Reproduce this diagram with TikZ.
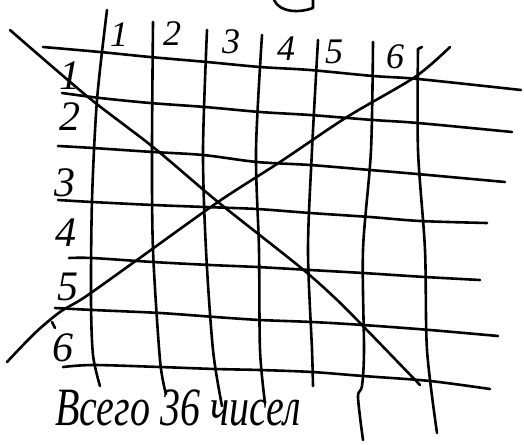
\documentclass[tikz,border=0pt]{standalone}
\usepackage{fontspec}
\setmainfont{Liberation Serif}
\begin{document}
\begin{tikzpicture}[x=1pt,y=-1pt,
  pen/.style={line width=2.6pt,line cap=round,line join=round},
  digit/.style={font=\fontsize{36}{36}\selectfont\itshape,inner sep=0pt},
  rowdigit/.style={digit,font=\fontsize{42}{42}\selectfont\itshape}]
  \useasboundingbox (0,0) rectangle (524,444);
  % cut-off mark at the top
  \draw[pen] (274,0) .. controls (280,13) and (300,13) .. (313,8) -- (313,0);
  % columns
  \draw[pen] plot[smooth] coordinates {(107,10)(97,100)(92,200)(91,300)(93,355)(100,386)};
  \draw[pen] plot[smooth] coordinates {(153,22)(152,150)(153,250)(160,360)(166,394)};
  \draw[pen] plot[smooth] coordinates {(207,30)(203,150)(206,250)(213,350)(222,406)};
  \draw[pen] plot[smooth] coordinates {(262,35)(256,150)(259,250)(260,350)(265,403)};
  \draw[pen] plot[smooth] coordinates {(318,40)(312,150)(308,250)(312,350)(313,386)};
  \draw[pen] plot[smooth] coordinates {(373,42)(371,150)(363,250)(364,350)(362,386)(358,397)(363,440)};
  \draw[pen] (422,47) -- (418,49);
  \draw[pen] plot[smooth] coordinates {(418,49)(418,150)(425,250)(427,350)(437,433)};
  % rows
  \draw[pen] plot[smooth] coordinates {(43,47)(100,52)(150,57)(207,62)(260,67)(310,70)(373,76)(418,79)(521,90)};
  \draw[pen] plot[smooth] coordinates {(62,93)(100,98)(150,103)(205,107)(260,112)(310,115)(373,120)(418,123)(512,132)};
  \draw[pen] plot[smooth] coordinates {(58,146)(93,148)(153,152)(203,155)(257,162)(310,165)(370,170)(417,174)(505,182)};
  \draw[pen] plot[smooth] coordinates {(58,200)(92,202)(153,205)(205,207)(257,209)(310,213)(370,217)(420,221)(487,223)};
  \draw[pen] plot[smooth] coordinates {(69,258)(92,258)(153,262)(210,265)(257,267)(310,270)(363,273)(425,277)(480,280)};
  \draw[pen] plot[smooth] coordinates {(55,308)(93,310)(160,313)(215,317)(260,320)(312,322)(363,325)(430,330)(498,336)};
  \draw[pen] plot[smooth] coordinates {(63,367)(93,365)(160,367)(215,369)(260,370)(312,372)(363,376)(430,381)(490,389)};
  % diagonals
  \draw[pen] plot[smooth] coordinates {(10,30)(88,97)(153,147)(218,202)(300,267)(335,298)(362,325)(420,385)};
  \draw[pen] plot[smooth] coordinates {(7,362)(35,333)(60,312)(85,297)(137,260)(218,202)(280,162)(347,117)(415,77)(450,47)};
  \draw[pen] (52,322) -- (55,328);
  % column numbers
  \node[digit] (c1) at (119,35) {1};
  \node[digit] (c2) at (172,34) {2};
  \node[digit] (c3) at (231,42) {3};
  \node[digit] (c4) at (286,49) {4};
  \node[digit] (c5) at (334,52) {5};
  \node[digit] (c6) at (395,57) {6};
  % row numbers
  \node[rowdigit] (r1) at (70,76) {1};
  \node[rowdigit] (r2) at (70,117) {2};
  \node[rowdigit] (r3) at (65,183) {3};
  \node[rowdigit] (r4) at (66,233) {4};
  \node[rowdigit] (r5) at (68,287) {5};
  \node[rowdigit] (r6) at (63,348) {6};
  % total
  \node[font=\fontsize{40}{40}\selectfont\itshape,inner sep=0pt,anchor=west,yscale=1.35] (total) at (55,408) {Всего 36 чисел};
\end{tikzpicture}
\end{document}
